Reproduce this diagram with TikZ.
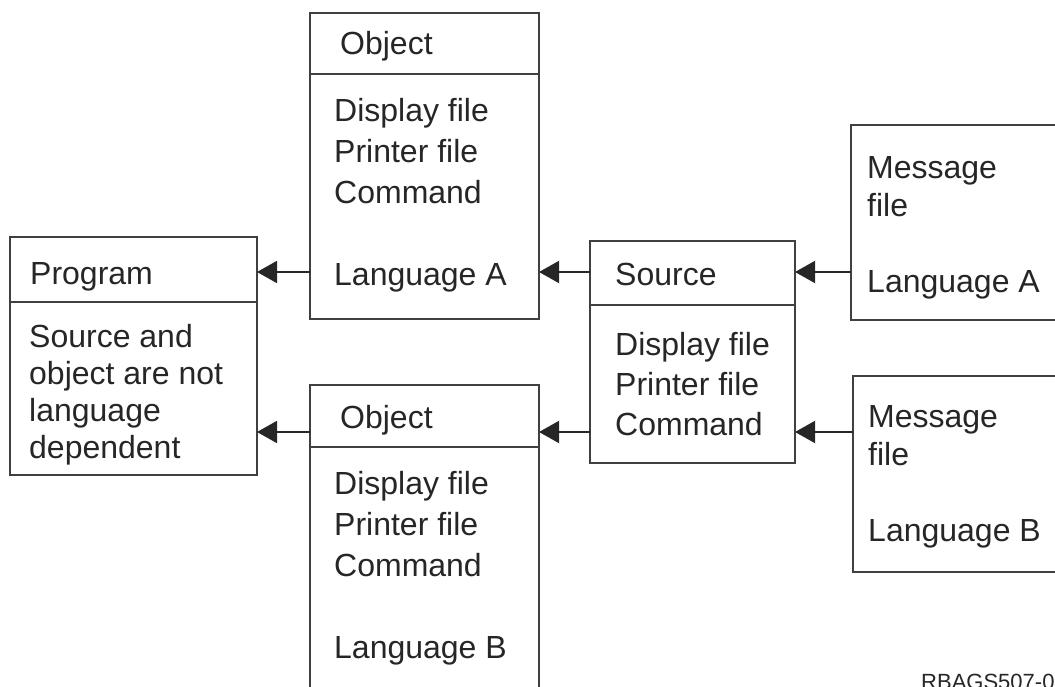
\documentclass[tikz,border=0pt]{standalone}
\usepackage{fontspec}
\setmainfont{Liberation Sans}
\usetikzlibrary{positioning, arrows.meta}
\tikzset{basic/.style={draw=black!75,line width=1.8pt,inner sep=0pt,outer sep=0pt,anchor=north west}}
\tikzset{txt/.style={inner sep=0pt,anchor=base west,align=left,text=black!85,font=\fontsize{32}{41}\selectfont}}
\tikzset{link/.style={draw=black!85,line width=1.8pt,-{Triangle[length=20pt,width=22pt]}}}

\begin{document}
\begin{tikzpicture}[x=1pt,y=-1pt]
\useasboundingbox (0,0) rectangle (1055,687);
\clip (0,0) rectangle (1055,687);

% Rows of the connectors
\coordinate (rowA) at (0,272);
\coordinate (rowB) at (0,432);

% Program box
\node[basic, minimum width=247pt, minimum height=65pt] (progHead) at (10,237) {};
\node[basic, minimum width=247pt, minimum height=173pt, below=0pt of progHead] (progBody) {};
\node[txt] (progName) at ([shift={(20,47)}]progHead.north west) {Program};
\node[txt, font=\fontsize{32}{37}\selectfont] (progText) at ([shift={(19,156)}]progBody.north west)
  {Source and\\object are not\\language\\dependent};

% Object box for language A
\node[basic, minimum width=229pt, minimum height=61pt] (objAHead) at (310,13) {};
\node[basic, minimum width=229pt, minimum height=245pt, below=0pt of objAHead] (objABody) {};
\node[txt] (objAName) at ([shift={(30,42)}]objAHead.north west) {Object};
\node[txt] (objAText) at ([shift={(24,211)}]objABody.north west)
  {Display file\\Printer file\\Command\\[41pt]Language A};

% Object box for language B
\node[basic, minimum width=229pt, minimum height=62pt] (objBHead) at (310,385) {};
\node[basic, minimum width=229pt, minimum height=300pt, below=0pt of objBHead] (objBBody) {};
\node[txt] (objBName) at ([shift={(30,43)}]objBHead.north west) {Object};
\node[txt] (objBText) at ([shift={(24,211)}]objBBody.north west)
  {Display file\\Printer file\\Command\\[41pt]Language B};

% Source box
\node[basic, minimum width=205pt, minimum height=64pt] (srcHead) at (590,241) {};
\node[basic, minimum width=205pt, minimum height=158pt, below=0pt of srcHead] (srcBody) {};
\node[txt] (srcName) at ([shift={(25,44)}]srcHead.north west) {Source};
\node[txt, font=\fontsize{32}{40}\selectfont] (srcText) at ([shift={(25,130)}]srcBody.north west)
  {Display file\\Printer file\\Command};

% Message files
\node[basic, minimum width=260pt, minimum height=195pt] (msgA) at (851,125) {};
\node[txt, font=\fontsize{32}{38}\selectfont] (msgAText) at ([shift={(16,167)}]msgA.north west)
  {Message\\file\\[38pt]Language A};
\node[basic, minimum width=260pt, minimum height=196pt] (msgB) at (853,376) {};
\node[txt, font=\fontsize{32}{38}\selectfont] (msgBText) at ([shift={(15,165)}]msgB.north west)
  {Message\\file\\[38pt]Language B};

% Draw lines towards the program
\path[link] (objABody.west |- rowA) -- (progHead.east |- rowA);
\path[link] (objBHead.west |- rowB) -- (progBody.east |- rowB);

% Draw lines from the source
\path[link] (srcHead.west |- rowA) -- (objABody.east |- rowA);
\path[link] (srcBody.west |- rowB) -- (objBHead.east |- rowB);

% Draw lines from the message files
\path[link] (msgA.west |- rowA) -- (srcHead.east |- rowA);
\path[link] (msgB.west |- rowB) -- (srcBody.east |- rowB);

% Figure number
\node[inner sep=0pt, anchor=base west, text=black!85, font=\fontsize{22}{22}\selectfont] (figNum) at (921,689) {RBAGS507-0};

\end{tikzpicture}
\end{document}
